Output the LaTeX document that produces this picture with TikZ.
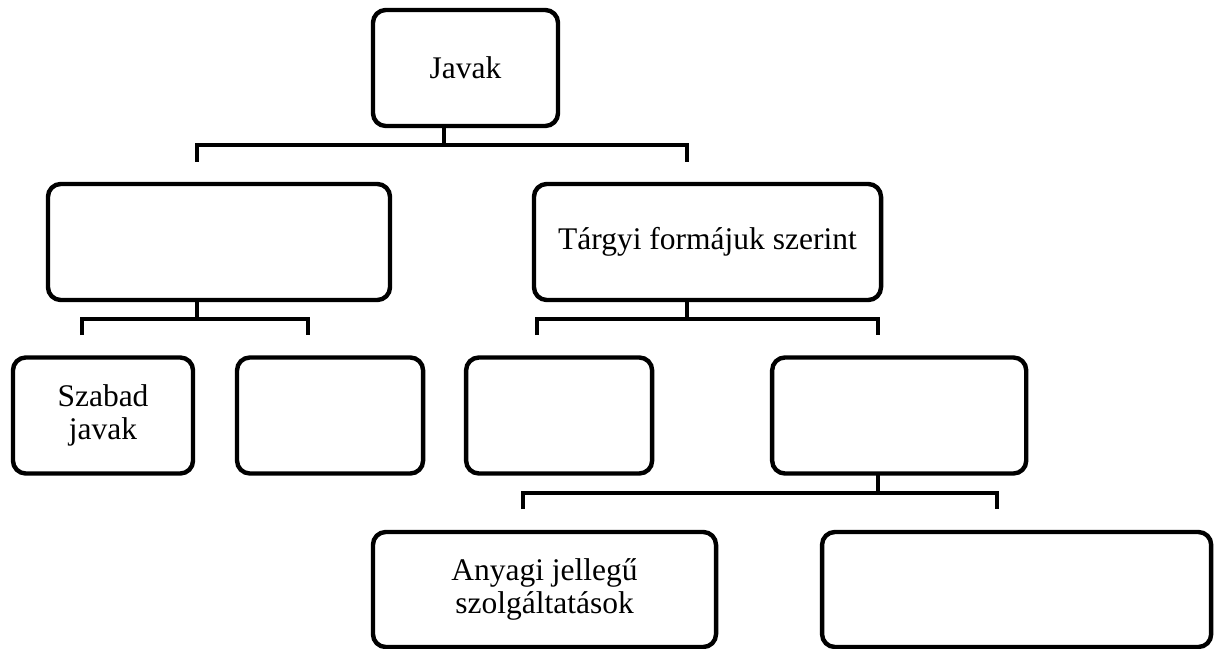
\documentclass[tikz,border=0pt]{standalone}
\usepackage{fontspec}
\setmainfont{Liberation Serif}
\usetikzlibrary{positioning}

\begin{document}
\begin{tikzpicture}[x=0.025cm,y=-0.025cm,every node/.style={box},
				box/.style={draw,rectangle,rounded corners=0.32cm,line width=0.11cm,outer sep=0pt,inner sep=0pt,
					minimum height=2.9cm,align=center,font=\fontsize{22.4}{23}\selectfont},
				conn/.style={line width=0.11cm}]
				\useasboundingbox (0,0) rectangle (1216,649);
				\node (JAVAK)  [minimum width=4.625cm] at (465.5,68)   {Javak};
				\node (BAL)    [minimum width=8.55cm]  at (219,242)    {};
				\node (TARGYI) [minimum width=8.675cm] at (707.5,242)  {Tárgyi formájuk szerint};
				\node (SZABAD) [minimum width=4.5cm]   at (103,415.5)  {Szabad\\javak};
				\node (URES1)  [minimum width=4.65cm,right=1.1cm of SZABAD]  {};
				\node (URES2)  [minimum width=4.65cm,right=1.075cm of URES1] {};
				\node (URES3)  [minimum width=6.35cm,right=3cm of URES2]     {};
				\node (ANYAGI) [minimum width=8.575cm,minimum height=2.875cm] at (544.5,589.5) {Anyagi jellegű\\szolgáltatások};
				\node (URES4)  [minimum width=9.725cm,minimum height=2.875cm,right=2.65cm of ANYAGI] {};
				
				\coordinate (jA) at (444,145); \coordinate (tA1) at (197,162); \coordinate (tA2) at (687,162);
				\coordinate (jB) at (197,319); \coordinate (tB1) at (82,335);  \coordinate (tB2) at (308,335);
				\coordinate (jC) at (687,319); \coordinate (tC1) at (537,335); \coordinate (tC2) at (878,335);
				\coordinate (jD) at (878,493); \coordinate (tD1) at (523,509); \coordinate (tD2) at (997,509);
				
				\draw[conn] (JAVAK.south -| jA) -- (jA);
				\draw[conn] (tA1) |- (jA) -| (tA2);
				\draw[conn] (BAL.south -| jB) -- (jB);
				\draw[conn] (tB1) |- (jB) -| (tB2);
				\draw[conn] (TARGYI.south -| jC) -- (jC);
				\draw[conn] (tC1) |- (jC) -| (tC2);
				\draw[conn] (URES3.south -| jD) -- (jD);
				\draw[conn] (tD1) |- (jD) -| (tD2);
			\end{tikzpicture}
\end{document}
